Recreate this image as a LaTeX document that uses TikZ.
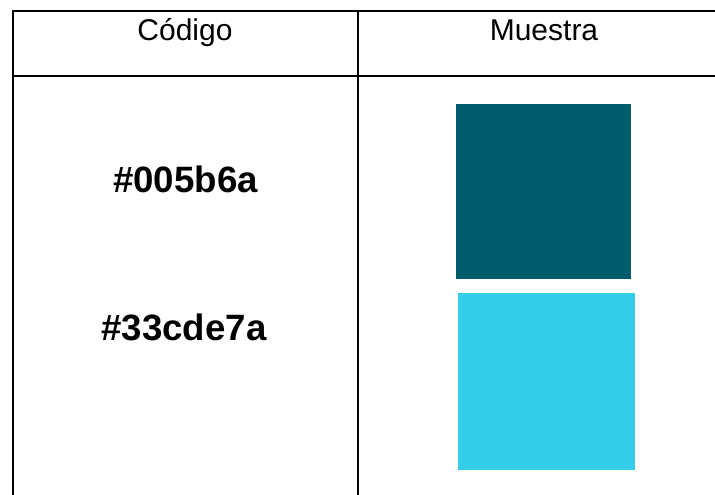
\documentclass[tikz,border=0pt]{standalone}
\usepackage{fontspec}
\setmainfont{Liberation Sans}
\definecolor{darkteal}{HTML}{005B6A}
\definecolor{lightcyan}{HTML}{33CDE7}
\begin{document}
\begin{tikzpicture}[x=0.75pt,y=-0.75pt,
  rule/.style={line width=1.5pt,black},
  hdr/.style={anchor=base,inner sep=0pt,font=\fontsize{22.5pt}{25pt}\selectfont},
  code/.style={anchor=base,inner sep=0pt,font=\fontsize{27.5pt}{30pt}\selectfont\bfseries}]
\useasboundingbox (0,0) rectangle (715,495);
% table rules
\coordinate (tl) at (12,11);
\coordinate (tr) at (715,11);
\coordinate (hl) at (12,76);
\coordinate (hr) at (715,76);
\coordinate (lt) at (13,10);
\coordinate (lb) at (13,495);
\coordinate (mt) at (358,10);
\coordinate (mb) at (358,495);
\draw[rule] (tl) -- (tr);
\draw[rule] (hl) -- (hr);
\draw[rule] (lt) -- (lb);
\draw[rule] (mt) -- (mb);
% headers
\node[hdr] (h1) at (185,41) {Código};
\node[hdr] (h2) at (544,41) {Muestra};
% codes
\node[code] (c1) at (185.5,193) {\#005b6a};
\node[code] (c2) at (184,341) {\#33cde7a};
% samples
\fill[darkteal] (456,104) rectangle (631,279) coordinate (s1);
\fill[lightcyan] (458,293) rectangle (635,470) coordinate (s2);
\end{tikzpicture}
\end{document}
